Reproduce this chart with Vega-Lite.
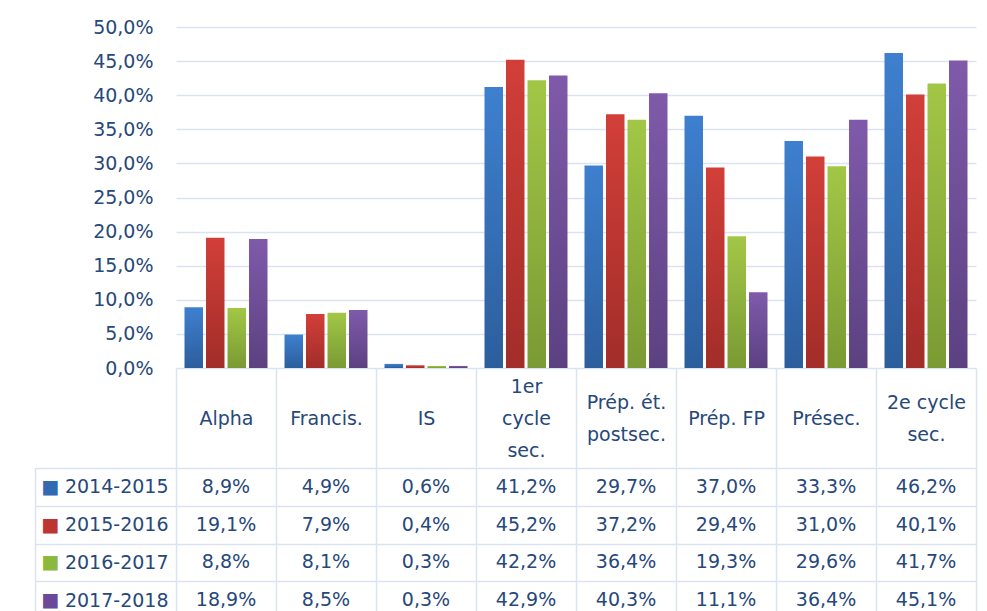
{
  "$schema": "https://vega.github.io/schema/vega-lite/v6.json",
  "autosize": {"type": "pad"},
  "padding": {"left": 34, "top": 18, "right": 11, "bottom": 0},
  "background": "white",
  "bounds": "flush",
  "spacing": 100,
  "config": {
    "locale": {"number": {"decimal": ",", "thousands": " ", "grouping": [3], "currency": ["", " €"]}},
    "view": {"stroke": null},
    "font": "DejaVu Sans",
    "axis": {"labelFont": "DejaVu Sans", "labelColor": "#27487a", "labelFontSize": 19, "title": null}
  },
  "datasets": {
    "d": [
      {"category": "Alpha", "series": "2014-2015", "value": 0.089},
      {"category": "Alpha", "series": "2015-2016", "value": 0.191},
      {"category": "Alpha", "series": "2016-2017", "value": 0.088},
      {"category": "Alpha", "series": "2017-2018", "value": 0.189},
      {"category": "Francis.", "series": "2014-2015", "value": 0.049},
      {"category": "Francis.", "series": "2015-2016", "value": 0.079},
      {"category": "Francis.", "series": "2016-2017", "value": 0.081},
      {"category": "Francis.", "series": "2017-2018", "value": 0.085},
      {"category": "IS", "series": "2014-2015", "value": 0.006},
      {"category": "IS", "series": "2015-2016", "value": 0.004},
      {"category": "IS", "series": "2016-2017", "value": 0.003},
      {"category": "IS", "series": "2017-2018", "value": 0.003},
      {"category": "1er cycle sec.", "series": "2014-2015", "value": 0.412},
      {"category": "1er cycle sec.", "series": "2015-2016", "value": 0.452},
      {"category": "1er cycle sec.", "series": "2016-2017", "value": 0.422},
      {"category": "1er cycle sec.", "series": "2017-2018", "value": 0.429},
      {"category": "Prép. ét. postsec.", "series": "2014-2015", "value": 0.297},
      {"category": "Prép. ét. postsec.", "series": "2015-2016", "value": 0.372},
      {"category": "Prép. ét. postsec.", "series": "2016-2017", "value": 0.364},
      {"category": "Prép. ét. postsec.", "series": "2017-2018", "value": 0.403},
      {"category": "Prép. FP", "series": "2014-2015", "value": 0.370},
      {"category": "Prép. FP", "series": "2015-2016", "value": 0.294},
      {"category": "Prép. FP", "series": "2016-2017", "value": 0.193},
      {"category": "Prép. FP", "series": "2017-2018", "value": 0.111},
      {"category": "Présec.", "series": "2014-2015", "value": 0.333},
      {"category": "Présec.", "series": "2015-2016", "value": 0.310},
      {"category": "Présec.", "series": "2016-2017", "value": 0.296},
      {"category": "Présec.", "series": "2017-2018", "value": 0.364},
      {"category": "2e cycle sec.", "series": "2014-2015", "value": 0.462},
      {"category": "2e cycle sec.", "series": "2015-2016", "value": 0.401},
      {"category": "2e cycle sec.", "series": "2016-2017", "value": 0.417},
      {"category": "2e cycle sec.", "series": "2017-2018", "value": 0.451}
    ]
  },
  "vconcat": [
    {
      "width": 800,
      "height": 341,
      "data": {"name": "d"},
      "encoding": {
        "x": {
          "field": "category", "type": "nominal",
          "scale": {"domain": ["Alpha", "Francis.", "IS", "1er cycle sec.", "Prép. ét. postsec.", "Prép. FP", "Présec.", "2e cycle sec."], "paddingInner": 0, "paddingOuter": 0},
          "axis": {
            "title": null, "domain": false, "ticks": true, "tickBand": "extent", "tickSize": 100,
            "tickColor": "#d9e3f1", "tickWidth": 1.5, "labelAngle": 0,
            "labelPadding": {"expr": "datum.value == '1er cycle sec.' ? -82 : (datum.value == 'Prép. ét. postsec.' || datum.value == '2e cycle sec.') ? -66 : -50"},
            "labelBaseline": "middle", "labelLineHeight": 32, "labelOverlap": false, "labelBound": false,
            "labelExpr": "datum.value == '1er cycle sec.' ? ['1er', 'cycle', 'sec.'] : datum.value == 'Prép. ét. postsec.' ? ['Prép. ét.', 'postsec.'] : datum.value == '2e cycle sec.' ? ['2e cycle', 'sec.'] : datum.label"
          }
        },
        "xOffset": {
          "field": "series", "type": "nominal",
          "scale": {"domain": ["2014-2015", "2015-2016", "2016-2017", "2017-2018"], "paddingInner": 0.14, "paddingOuter": 0.395}
        },
        "y": {
          "field": "value", "type": "quantitative",
          "scale": {"domain": [0, 0.5], "nice": false},
          "axis": {
            "title": null, "format": ".1%", "values": [0, 0.05, 0.1, 0.15, 0.2, 0.25, 0.3, 0.35, 0.4, 0.45, 0.5],
            "domain": false, "ticks": false, "labelPadding": 23, "grid": true, "gridColor": "#d9e3f1", "gridWidth": 1.5
          }
        }
      },
      "layer": [
        {
          "transform": [{"filter": "datum.series == '2014-2015'"}],
          "mark": {"type": "bar", "color": {"gradient": "linear", "x1": 0, "y1": 0, "x2": 0, "y2": 1, "stops": [{"offset": 0, "color": "#3e80cf"}, {"offset": 1, "color": "#2c5e9c"}]}}
        },
        {
          "transform": [{"filter": "datum.series == '2015-2016'"}],
          "mark": {"type": "bar", "color": {"gradient": "linear", "x1": 0, "y1": 0, "x2": 0, "y2": 1, "stops": [{"offset": 0, "color": "#d23f39"}, {"offset": 1, "color": "#a22d29"}]}}
        },
        {
          "transform": [{"filter": "datum.series == '2016-2017'"}],
          "mark": {"type": "bar", "color": {"gradient": "linear", "x1": 0, "y1": 0, "x2": 0, "y2": 1, "stops": [{"offset": 0, "color": "#a2c746"}, {"offset": 1, "color": "#7a9a33"}]}}
        },
        {
          "transform": [{"filter": "datum.series == '2017-2018'"}],
          "mark": {"type": "bar", "color": {"gradient": "linear", "x1": 0, "y1": 0, "x2": 0, "y2": 1, "stops": [{"offset": 0, "color": "#7f5aaa"}, {"offset": 1, "color": "#5c4181"}]}}
        }
      ]
    },
    {
      "width": 800,
      "height": 151,
      "data": {"name": "d"},
      "encoding": {
        "x": {
          "field": "category", "type": "nominal",
          "scale": {"domain": ["Alpha", "Francis.", "IS", "1er cycle sec.", "Prép. ét. postsec.", "Prép. FP", "Présec.", "2e cycle sec."], "paddingInner": 0, "paddingOuter": 0},
          "axis": {"title": null, "labels": false, "ticks": false, "domain": false, "grid": true, "tickBand": "extent", "gridColor": "#d9e3f1", "gridWidth": 1.5}
        }
      },
      "layer": [
        {
          "mark": {"type": "text", "fontSize": 19, "color": "#27487a", "font": "DejaVu Sans"},
          "encoding": {
            "y": {
              "field": "series", "type": "nominal",
              "scale": {"domain": ["2014-2015", "2015-2016", "2016-2017", "2017-2018"], "paddingInner": 0, "paddingOuter": 0},
              "axis": {
                "title": null, "domain": false, "ticks": true, "tickBand": "extent", "tickSize": 141,
                "tickColor": "#d9e3f1", "tickWidth": 1.5, "labelPadding": -133, "labelAlign": "right",
                "grid": true, "gridColor": "#d9e3f1", "gridWidth": 1.5
              }
            },
            "text": {"field": "value", "type": "quantitative", "format": ".1%"}
          }
        },
        {
          "mark": {"type": "rect", "opacity": 0},
          "encoding": {
            "y": {
              "field": "series", "type": "nominal",
              "scale": {"domain": ["2014-2015", "2015-2016", "2016-2017", "2017-2018"], "paddingInner": 0, "paddingOuter": 0},
              "axis": {
                "title": null, "orient": "left", "offset": 141, "domain": true, "domainColor": "#d9e3f1", "domainWidth": 1.5,
                "ticks": false, "grid": false, "labelExpr": "'■'", "labelAlign": "left", "labelPadding": -6, "labelFontSize": 19,
                "labelColor": {"expr": "datum.value == '2014-2015' ? '#3169b3' : datum.value == '2015-2016' ? '#bd3430' : datum.value == '2016-2017' ? '#8cb83b' : '#6a4a98'"}
              }
            }
          }
        }
      ],
      "resolve": {"axis": {"y": "independent"}}
    }
  ]
}
